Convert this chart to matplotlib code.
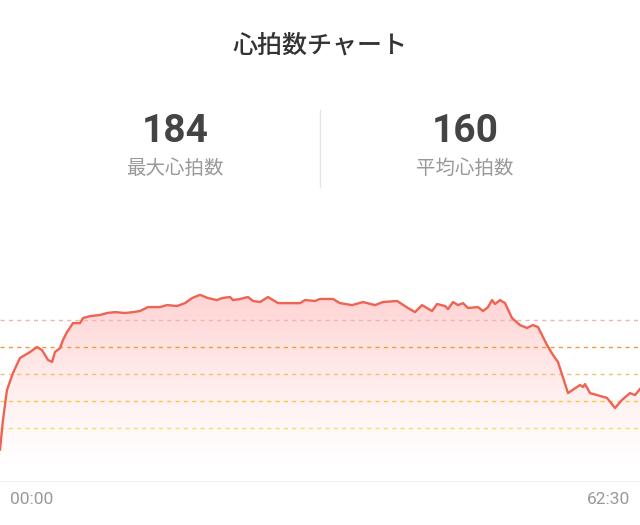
import matplotlib.pyplot as plt
import numpy as np
from matplotlib.patches import Polygon

plt.rcParams['font.family'] = ['Noto Sans CJK JP', 'DejaVu Sans']

# heart rate data (minutes, bpm)
elapsed_min = [0, 0.29, 0.68, 1.27, 1.95, 2.93, 3.61, 4.10, 4.69, 5.08, 5.37, 5.86, 6.15, 6.54,
               7.13, 7.81, 8.11, 8.79, 9.77, 10.45, 11.23, 12.21, 12.99, 13.67, 14.45, 15.63,
               16.31, 17.29, 18.07, 18.75, 19.53, 20.31, 21.19, 21.68, 22.46, 22.75, 23.44,
               24.22, 24.71, 25.39, 26.17, 27.15, 28.03, 29.30, 29.79, 30.76, 31.25, 32.52,
               33.20, 34.38, 35.45, 36.62, 37.40, 38.77, 39.84, 40.53, 41.21, 42.19, 42.68,
               43.46, 43.75, 44.24, 44.73, 45.21, 45.70, 46.68, 47.17, 47.66, 48.05, 48.34,
               48.83, 49.32, 50.0, 50.78, 51.46, 52.05, 52.54, 53.42, 54.0, 54.49, 55.47,
               56.35, 56.64, 56.93, 57.13, 57.62, 58.30, 59.28, 60.06, 60.74, 61.52, 62.01, 62.5]
heart_rate = [98, 114.4, 131.1, 140.6, 148.9, 152.2, 155, 153.3, 147.8, 146.7, 152.2, 154.4,
              158.9, 163.3, 168.3, 168.3, 171.1, 172.2, 172.8, 173.9, 174.4, 173.9, 174.4, 175,
              177.2, 177.2, 178.3, 177.8, 179.4, 182.2, 184, 182.2, 181.1, 182.2, 182.8, 181.1,
              181.7, 182.8, 180.6, 180, 182.8, 179.4, 179.4, 179.4, 181.1, 180.6, 181.7, 181.7,
              179.4, 178.3, 180, 178.3, 180, 180.6, 176.7, 174.4, 178.3, 175, 178.9, 177.8,
              176.1, 180, 178.3, 179.4, 176.7, 177.2, 175, 177.2, 181.1, 178.9, 181.1, 179.4,
              171.1, 167.2, 165.6, 167.2, 166.1, 156.1, 150.6, 146.7, 129.4, 132.8, 133.9,
              132.8, 134.4, 129.4, 128.3, 126.7, 121.1, 125.6, 129.4, 128.3, 131.7]

zone_lines = [170, 155, 140, 125, 110]
zone_colors = ['#f2b4ae', '#f29a3a', '#f3bd76', '#f3c84c', '#f3df63']

max_hr = 184
avg_hr = 160

fig = plt.figure(figsize=(6.4, 5.25), dpi=100)

# header texts
fig.text(0.5, 1 - 46 / 525, '心拍数チャート', ha='center', va='center', fontsize=18,
         fontweight='medium', color='#333333')
fig.text(175 / 640, 1 - 131 / 525, str(max_hr), ha='center', va='center', fontsize=28,
         fontweight='bold', color='#444444', family=['Roboto', 'DejaVu Sans'])
fig.text(175 / 640, 1 - 168 / 525, '最大心拍数', ha='center', va='center', fontsize=14, color='#999999')
fig.text(465 / 640, 1 - 131 / 525, str(avg_hr), ha='center', va='center', fontsize=28,
         fontweight='bold', color='#444444', family=['Roboto', 'DejaVu Sans'])
fig.text(465 / 640, 1 - 168 / 525, '平均心拍数', ha='center', va='center', fontsize=14, color='#999999')
fig.add_artist(plt.Line2D([0.5, 0.5], [1 - 110 / 525, 1 - 187 / 525], color='#e4e4e4', lw=1))

# chart area
ax = fig.add_axes([0, 43 / 525, 1, 282 / 525])
ymin, ymax = 80, 236.7
ax.set_xlim(0, 62.5)
ax.set_ylim(ymin, ymax)
ax.axis('off')

# gradient fill under the line
grad = np.linspace(0, 1, 256)
rgba = np.zeros((256, 1, 4))
rgba[:, 0, 0] = 1.0
rgba[:, 0, 1] = 0.82
rgba[:, 0, 2] = 0.82
rgba[:, 0, 3] = grad ** 1.2 * 0.95
img = ax.imshow(rgba, extent=[0, 62.5, ymin + 8, max(heart_rate)], origin='lower',
                aspect='auto', zorder=1)
verts = [(elapsed_min[0], ymin)] + list(zip(elapsed_min, heart_rate)) + [(elapsed_min[-1], ymin)]
poly = Polygon(verts, closed=True, facecolor='none', edgecolor='none')
ax.add_patch(poly)
img.set_clip_path(poly)

for z, c in zip(zone_lines, zone_colors):
    ax.axhline(z, color=c, lw=1, dashes=(3, 3), zorder=2)

ax.plot(elapsed_min, heart_rate, color='#ee6352', lw=1.7, zorder=3, solid_joinstyle='round')

ax.axhline(ymin, color='#ececec', lw=1.2, zorder=2)

fig.text(10 / 640, 1 - 499 / 525, '00:00', ha='left', va='center', fontsize=12.5, color='#999999',
         family=['Roboto', 'DejaVu Sans'])
fig.text(630 / 640, 1 - 499 / 525, '62:30', ha='right', va='center', fontsize=12.5, color='#999999',
         family=['Roboto', 'DejaVu Sans'])

plt.savefig('out.png', dpi=100)
